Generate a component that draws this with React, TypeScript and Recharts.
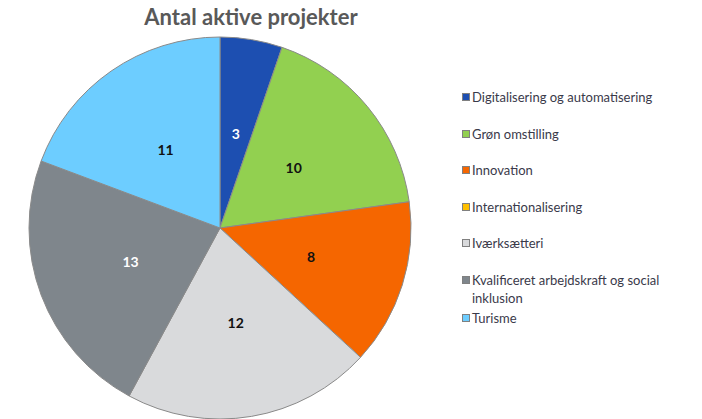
import React from "react";
import { PieChart, Pie, Cell } from "recharts";

const categories = [
  "Digitalisering og automatisering",
  "Grøn omstilling",
  "Innovation",
  "Internationalisering",
  "Iværksætteri",
  "Kvalificeret arbejdskraft og social inklusion",
  "Turisme",
];
const values = [3, 10, 8, 0, 12, 13, 11];
const colors = ["#1d4fb1", "#92d050", "#f56600", "#ffc000", "#d9dadc", "#7f868c", "#6dcdff"];
const labelColors = ["#ffffff", "#111111", "#111111", "#111111", "#111111", "#ffffff", "#111111"];
const title = "Antal aktive projekter";

const data = categories.map((name, i) => ({ name, value: values[i] }));

const RAD = Math.PI / 180;
const renderLabel = (props: any) => {
  const { cx, cy, midAngle, outerRadius, value, index } = props;
  if (!value) return null;
  const r = outerRadius * 0.5;
  const x = cx + r * Math.cos(-midAngle * RAD);
  const y = cy + r * Math.sin(-midAngle * RAD);
  return (
    <text
      x={x}
      y={y}
      fill={labelColors[index]}
      textAnchor="middle"
      dominantBaseline="central"
      fontFamily="Lato, sans-serif"
      fontWeight={700}
      fontSize={14}
    >
      {value}
    </text>
  );
};

const LegendContent = () => (
  <div style={{ fontFamily: "Lato, sans-serif", fontSize: 13, color: "#3a3a4a", width: 235 }}>
    {categories.map((c, i) => (
      <div
        key={c}
        style={{
          display: "flex",
          alignItems: "flex-start",
          lineHeight: "18px",
          marginTop: i === 0 ? 0 : i === 6 ? 2 : 18.5,
        }}
      >
        <span
          style={{
            display: "inline-block",
            width: 6,
            height: 6,
            marginTop: 5,
            marginRight: 2,
            background: colors[i],
            border: "1px solid #808080",
            flex: "0 0 auto",
          }}
        />
        <span>{c}</span>
      </div>
    ))}
  </div>
);

export default function App() {
  return (
    <div style={{ position: "absolute", left: 0, top: 0, width: 702, height: 419, background: "#fff" }}>
      <div
        style={{
          position: "absolute",
          left: 0,
          width: 502,
          top: 3,
          textAlign: "center",
          fontFamily: "Lato, sans-serif",
          fontWeight: 700,
          fontSize: 22,
          color: "#595959",
          zIndex: 2,
        }}
      >
        {title}
      </div>
      <PieChart width={702} height={419} margin={{ top: 0, right: 0, bottom: 0, left: 0 }}>
        <Pie
          data={data}
          dataKey="value"
          nameKey="name"
          cx={220}
          cy={228}
          outerRadius={191}
          startAngle={90}
          endAngle={-270}
          stroke="#8a8a8a"
          strokeWidth={1}
          label={renderLabel}
          labelLine={false}
          isAnimationActive={false}
        >
          {data.map((d, i) => (
            <Cell key={d.name} fill={colors[i]} />
          ))}
        </Pie>
      </PieChart>
      <div style={{ position: "absolute", left: 462, top: 88 }}>
        <LegendContent />
      </div>
    </div>
  );
}
